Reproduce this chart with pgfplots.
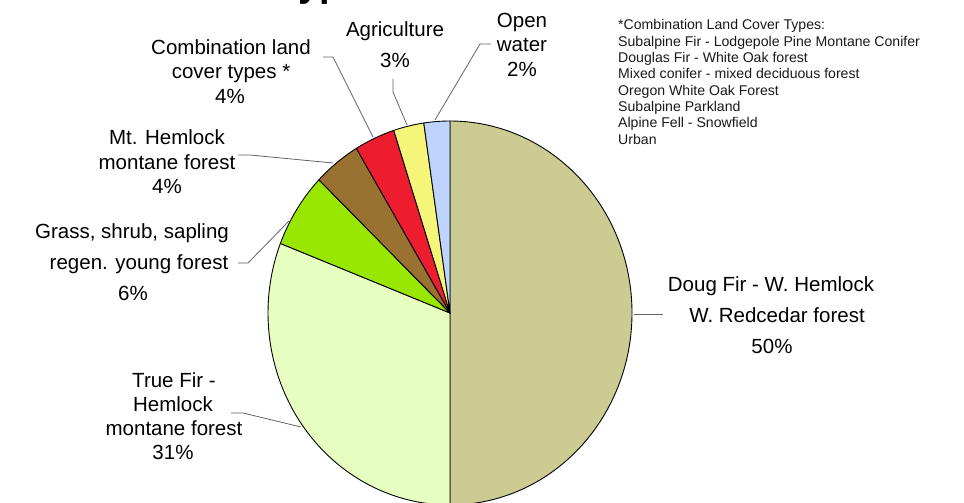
\documentclass[border=0pt]{standalone}
\usepackage{fontspec}
\setmainfont{Liberation Sans}
\usepackage{pgfplots}
\usepackage{pgfplotstable}
\pgfplotsset{compat=1.18}

% slice colours, same order as the table
\definecolor{slice0}{RGB}{204,204,146}
\definecolor{slice1}{RGB}{230,255,192}
\definecolor{slice2}{RGB}{153,230,0}
\definecolor{slice3}{RGB}{153,113,48}
\definecolor{slice4}{RGB}{237,28,46}
\definecolor{slice5}{RGB}{245,245,122}
\definecolor{slice6}{RGB}{191,211,255}
\definecolor{leadgray}{RGB}{100,100,100}

% share of each land cover type (percent), clockwise from 12 o'clock
\pgfplotstableread{
value name
50.0 DougFir
30.9 TrueFir
6.3  Grass
4.2  MtHemlock
3.6  Combination
2.7  Agriculture
2.3  OpenWater
}\piedata

\newcommand\labfont{\fontsize{20.5bp}{24bp}\selectfont}
\newcommand\notefont{\fontsize{14.1bp}{16bp}\selectfont}

\tikzset{
  lab/.style={anchor=base, font=\labfont, text=black, inner sep=0pt},
  note/.style={anchor=base west, font=\notefont, text=black!90, inner sep=0pt},
  leader/.style={draw=leadgray, line width=0.8bp},
}

\begin{document}
\begin{tikzpicture}
% start and end angle of every slice
\def\cum{0}
\pgfplotsforeachungrouped \i in {0,...,6}{%
  \pgfplotstablegetelem{\i}{value}\of\piedata
  \pgfmathsetmacro\astart{90-3.6*\cum}%
  \pgfmathsetmacro\cum{\cum+\pgfplotsretval}%
  \pgfmathsetmacro\aend{90-3.6*\cum}%
  \expandafter\xdef\csname sa\i\endcsname{\astart}%
  \expandafter\xdef\csname se\i\endcsname{\aend}%
}
\begin{axis}[
    width=964bp, height=503bp, scale only axis,
    xmin=0, xmax=964, ymin=0, ymax=503,
    y dir=reverse,
    hide axis,
    clip=true,
]
\coordinate (bbA) at (rel axis cs:0,0);
\coordinate (bbB) at (rel axis cs:1,1);

\pgfplotsinvokeforeach{0,...,6}{%
  \edef\temp{\noexpand\filldraw[fill=slice#1, draw=black, line width=0.9bp, line join=round]
    (axis cs:450,313) -- ++(\csname sa#1\endcsname:182bp and 192bp)
    arc[start angle=\csname sa#1\endcsname, end angle=\csname se#1\endcsname,
        x radius=182bp, y radius=192bp] -- cycle;}%
  \temp
}

% title, cut off by the top edge: only the descenders show
\node[anchor=base east, inner sep=0pt, font=\fontsize{38bp}{40bp}\selectfont\bfseries]
  at (axis cs:385,-3) {Land Cover Types};

% leader lines
\draw[leader] (axis cs:634,314) -- (axis cs:663,314);
\draw[leader] (axis cs:231,413) -- (axis cs:243,413) -- (axis cs:301,427);
\draw[leader] (axis cs:238,263) -- (axis cs:248,263) -- (axis cs:289,221);
\draw[leader] (axis cs:238,155) -- (axis cs:250,155) -- (axis cs:333,163);
\draw[leader] (axis cs:323,57) -- (axis cs:333,57) -- (axis cs:373,137);
\draw[leader] (axis cs:393,79) -- (axis cs:393,92) -- (axis cs:407,125);
\draw[leader] (axis cs:491,44) -- (axis cs:480,44) -- (axis cs:435,120);

% slice labels
\node[lab] at (axis cs:771,291.5) {Doug Fir - W. Hemlock};
\node[lab] at (axis cs:777,322.5) {W. Redcedar forest};
\node[lab] at (axis cs:772,353) {50\%};

\node[lab] at (axis cs:174,387) {True Fir -};
\node[lab] at (axis cs:173,411.5) {Hemlock};
\node[lab] at (axis cs:174,435.5) {montane forest};
\node[lab] at (axis cs:173,459.5) {31\%};

\node[lab] at (axis cs:132,238) {Grass, shrub, sapling};
\node[lab] at (axis cs:139,269.5) {regen. young forest};
\node[lab] at (axis cs:133,300) {6\%};

\node[lab] at (axis cs:167,144.5) {Mt. Hemlock};
\node[lab] at (axis cs:167,169) {montane forest};
\node[lab] at (axis cs:167,193.5) {4\%};

\node[lab] at (axis cs:231,55) {Combination land};
\node[lab] at (axis cs:231,79) {cover types *};
\node[lab] at (axis cs:230,103) {4\%};

\node[lab] at (axis cs:395,37) {Agriculture};
\node[lab] at (axis cs:395,68) {3\%};

\node[lab] at (axis cs:522,28) {Open};
\node[lab] at (axis cs:522,52) {water};
\node[lab] at (axis cs:522,77) {2\%};

% footnote for the combined class
\node[note] at (axis cs:618,30) {*Combination Land Cover Types:};
\node[note] at (axis cs:618,46.3) {Subalpine Fir - Lodgepole Pine Montane Conifer};
\node[note] at (axis cs:618,62.6) {Douglas Fir - White Oak forest};
\node[note] at (axis cs:618,78.9) {Mixed conifer - mixed deciduous forest};
\node[note] at (axis cs:618,95.2) {Oregon White Oak Forest};
\node[note] at (axis cs:618,111.5) {Subalpine Parkland};
\node[note] at (axis cs:618,127.8) {Alpine Fell - Snowfield};
\node[note] at (axis cs:618,144.1) {Urban};
\end{axis}
\pgfresetboundingbox
\path[use as bounding box] (bbA) rectangle (bbB);
\end{tikzpicture}
\end{document}
